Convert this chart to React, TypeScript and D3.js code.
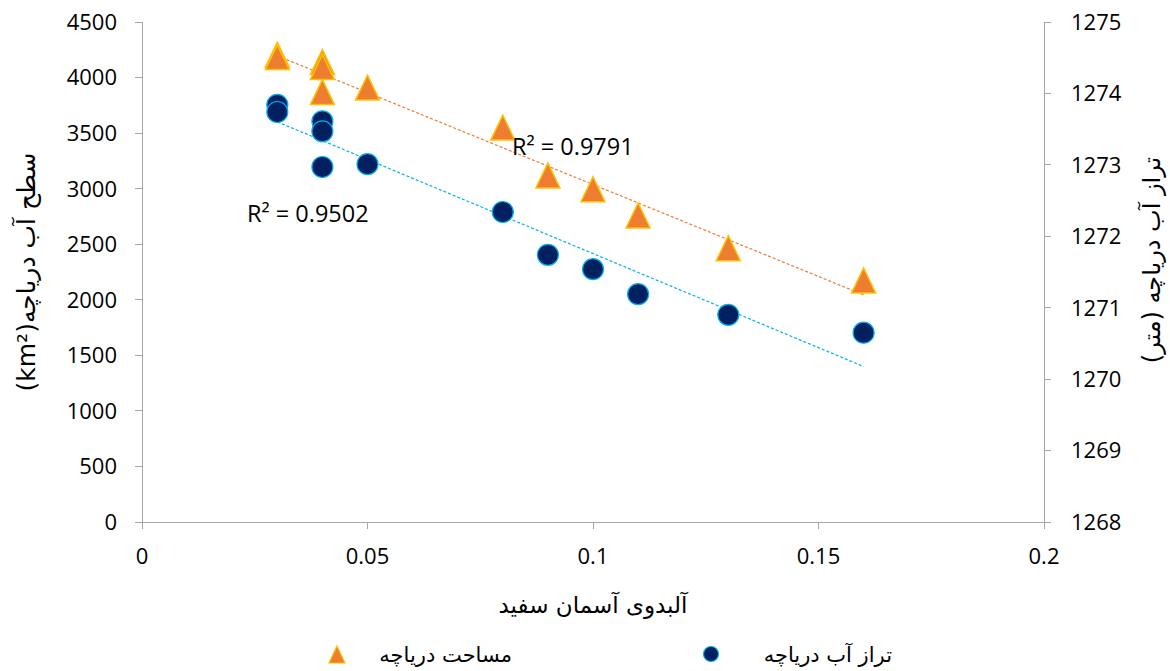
import React from 'react';
import * as d3 from 'd3';

// albedo of the white sky (x), shared by both series
const albedo = [0.03, 0.03, 0.04, 0.04, 0.04, 0.05, 0.08, 0.09, 0.1, 0.11, 0.13, 0.16];
// lake area, left axis (km2)
const lakeArea = [4200, 4180, 4135, 4090, 3865, 3905, 3545, 3115, 2990, 2755, 2460, 2170];
// lake level, right axis (m)
const lakeLevel = [1273.84, 1273.74, 1273.61, 1273.47, 1272.97, 1273.01, 1272.34, 1271.74, 1271.54, 1271.19, 1270.9, 1270.65];

const xTicks = [0, 0.05, 0.1, 0.15, 0.2];
const leftTicks = [0, 500, 1000, 1500, 2000, 2500, 3000, 3500, 4000, 4500];
const rightTicks = [1268, 1269, 1270, 1271, 1272, 1273, 1274, 1275];

const areaR2 = 'R² = 0.9791';
const levelR2 = 'R² = 0.9502';

const W = 1170;
const H = 671;
const margin = { left: 142, right: 126, top: 22, bottom: 149 };

const axisColor = '#a6a6a6';
const numFont = '"Open Sans", "Noto Sans", sans-serif';
const faFont = '"DejaVu Sans", sans-serif';

// least squares fit, same as excel's linear trendline
function linearFit(xs: number[], ys: number[]) {
  const mx = d3.mean(xs) as number;
  const my = d3.mean(ys) as number;
  let sxy = 0;
  let sxx = 0;
  xs.forEach((x, i) => {
    sxy += (x - mx) * (ys[i] - my);
    sxx += (x - mx) * (x - mx);
  });
  const slope = sxy / sxx;
  return (x: number) => my + slope * (x - mx);
}

const triangle = 'M0,-13L12,12L-12,12Z';

export default function App() {
  const x = d3.scaleLinear().domain([0, 0.2]).range([margin.left, W - margin.right]);
  const yL = d3.scaleLinear().domain([0, 4500]).range([H - margin.bottom, margin.top]);
  const yR = d3.scaleLinear().domain([1268, 1275]).range([H - margin.bottom, margin.top]);

  const x0 = d3.min(albedo) as number;
  const x1 = d3.max(albedo) as number;
  const fitArea = linearFit(albedo, lakeArea);
  const fitLevel = linearFit(albedo, lakeLevel);

  const bottom = H - margin.bottom;
  const left = margin.left;
  const right = W - margin.right;

  return (
    <svg width={W} height={H} style={{ position: 'absolute', left: 0, top: 0, background: '#fff' }}>
      {/* axes */}
      <g stroke={axisColor} strokeWidth={1} shapeRendering="crispEdges">
        <line x1={left} x2={left} y1={margin.top} y2={bottom} />
        <line x1={right} x2={right} y1={margin.top} y2={bottom} />
        <line x1={left} x2={right} y1={bottom} y2={bottom} />
        {leftTicks.map((t) => (
          <line key={'l' + t} x1={left - 7} x2={left} y1={yL(t)} y2={yL(t)} />
        ))}
        {rightTicks.map((t) => (
          <line key={'r' + t} x1={right} x2={right + 7} y1={yR(t)} y2={yR(t)} />
        ))}
        {xTicks.map((t) => (
          <line key={'x' + t} x1={x(t)} x2={x(t)} y1={bottom} y2={bottom + 7} />
        ))}
      </g>

      <g fontFamily={numFont} fontSize={22} fill="#000">
        {leftTicks.map((t) => (
          <text key={'lt' + t} x={left - 25} y={yL(t)} dy="0.36em" textAnchor="end">
            {t}
          </text>
        ))}
        {rightTicks.map((t) => (
          <text key={'rt' + t} x={right + 27} y={yR(t)} dy="0.36em">
            {t}
          </text>
        ))}
        {xTicks.map((t) => (
          <text key={'xt' + t} x={x(t)} y={bottom + 42} textAnchor="middle">
            {t}
          </text>
        ))}
      </g>

      {/* trendlines */}
      <line
        x1={x(x0)} y1={yL(fitArea(x0))} x2={x(x1)} y2={yL(fitArea(x1))}
        stroke="#ed7d31" strokeWidth={1.2} strokeDasharray="3,2"
      />
      <line
        x1={x(x0)} y1={yR(fitLevel(x0))} x2={x(x1)} y2={yR(fitLevel(x1))}
        stroke="#00b0f0" strokeWidth={1.2} strokeDasharray="3,2"
      />

      {/* lake level points */}
      {albedo.map((a, i) => (
        <circle key={'c' + i} cx={x(a)} cy={yR(lakeLevel[i])} r={10.5} fill="#002060" stroke="#00b0f0" strokeWidth={1.2} />
      ))}
      {/* lake area points */}
      {albedo.map((a, i) => (
        <path
          key={'t' + i}
          d={triangle}
          transform={`translate(${x(a)},${yL(lakeArea[i])})`}
          fill="#ed7d31"
          stroke="#ffc000"
          strokeWidth={1.5}
          strokeLinejoin="miter"
        />
      ))}

      <g fontFamily={numFont} fontSize={23.5} fill="#000">
        <text x={512} y={155}>{areaR2}</text>
        <text x={247} y={222}>{levelR2}</text>
      </g>

      {/* axis titles */}
      <g fontFamily={faFont} fill="#000">
        <text
          transform={`translate(35,${(margin.top + bottom) / 2}) rotate(-90)`}
          textAnchor="middle"
          direction="rtl"
          fontSize={25}
        >
          سطح آب دریاچه(km²)
        </text>
        <text
          transform={`translate(1160,${(margin.top + bottom) / 2 - 12}) rotate(-90)`}
          textAnchor="middle"
          direction="rtl"
          fontSize={24}
        >
          تراز آب دریاچه (متر)
        </text>
        <text x={(left + right) / 2} y={613} textAnchor="middle" direction="rtl" fontSize={23}>
          آلبدوی آسمان سفید
        </text>
      </g>

      {/* legend */}
      <g>
        <path d="M0,-9L8,8L-8,8Z" transform="translate(337,655)" fill="#ed7d31" stroke="#ffc000" strokeWidth={1.2} />
        <text x={512} y={662} textAnchor="start" direction="rtl" fontFamily={faFont} fontSize={21}>
          مساحت دریاچه
        </text>
        <circle cx={711} cy={654} r={7.5} fill="#002060" stroke="#00b0f0" strokeWidth={1.2} />
        <text x={892} y={662} textAnchor="start" direction="rtl" fontFamily={faFont} fontSize={21}>
          تراز آب دریاچه
        </text>
      </g>
    </svg>
  );
}
